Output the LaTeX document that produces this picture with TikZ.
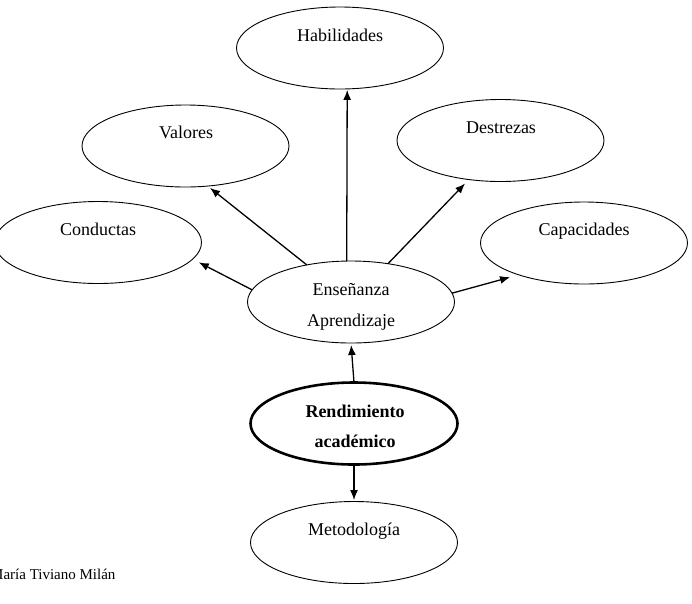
\documentclass[tikz,border=0pt]{standalone}
\usepackage{fontspec}
\setmainfont{Liberation Serif}
\usetikzlibrary{shapes.geometric,arrows.meta}
\tikzset{
  oval/.style={draw=black, ellipse, line width=0.9pt, inner sep=0pt, outer sep=0pt,
    minimum width=207pt, minimum height=82pt},
  boldoval/.style={oval, line width=2.6pt},
  lbl/.style={inner sep=0pt, anchor=base, font=\fontsize{18}{20}\selectfont},
  blbl/.style={lbl, font=\fontsize{18}{20}\selectfont\bfseries},
  arr/.style={line width=1.3pt, -{Latex[length=10pt,width=8pt]}},
}
\begin{document}
\begin{tikzpicture}[x=1pt,y=-1pt]
\useasboundingbox (0,0) rectangle (692,603);
% ellipses
\node[oval] (hab) at (340,48) {};
\node[oval] (val) at (185.5,146) {};
\node[oval] (des) at (500.5,140.5) {};
\node[oval] (con) at (98,242.5) {};
\node[oval] (cap) at (584,243) {};
\node[oval] (ens) at (351,302) {};
\node[boldoval] (ren) at (354,423.5) {};
\node[oval] (met) at (354,542.5) {};
% texts
\node[lbl] (habT) at (340,41.7) {Habilidades};
\node[lbl] (valT) at (186,138.3) {Valores};
\node[lbl] (desT) at (501,133.3) {Destrezas};
\node[lbl] (conT) at (98,235.7) {Conductas};
\node[lbl] (capT) at (584,235.7) {Capacidades};
\node[lbl] (ensT1) at (351,295) {Enseñanza};
\node[lbl] (ensT2) at (351,326) {Aprendizaje};
\node[blbl] (renT1) at (355,417) {Rendimiento};
\node[blbl] (renT2) at (355,447) {académico};
\node[lbl] (metT) at (354,535) {Metodología};
\node[inner sep=0pt, anchor=base west, font=\fontsize{15}{17}\selectfont] (autor) at (-10,579) {María Tiviano Milán};
% connectors
\draw[arr, shorten >=1pt] (ens.96) -- (hab.-80.3);
\draw[arr, shorten >=3pt] (ens.140.8) -- (val.-61.1);
\draw[arr, shorten >=5.5pt] (ens.46.5) -- (des.-129.5);
\draw[arr, shorten >=7pt] (ens.173.4) -- (con.-10.7);
\draw[arr, shorten >=9pt] (ens.5.6) -- (cap.-154.4);
\draw[arr, shorten >=2pt] (ren.north) -- (ens.south);
\draw[arr, shorten >=1.5pt] (ren.south) -- (met.north);
\end{tikzpicture}
\end{document}
